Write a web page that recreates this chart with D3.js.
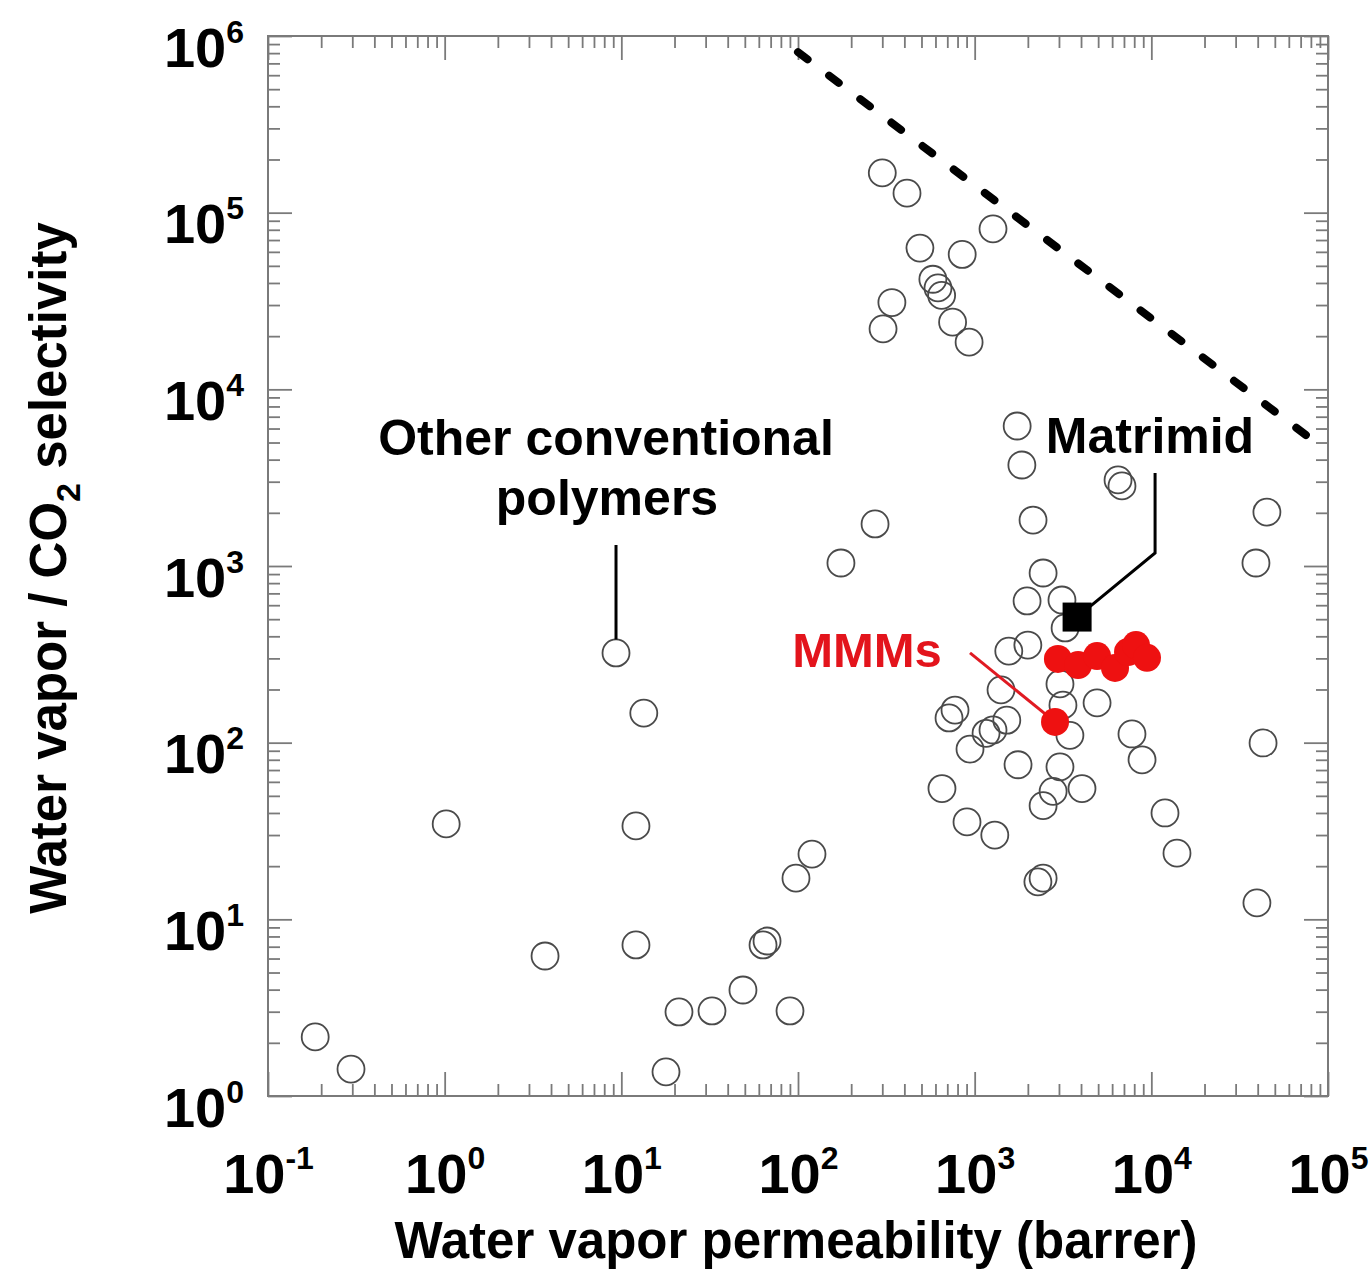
<!DOCTYPE html>
<html>
<head>
<meta charset="utf-8">
<script src="https://cdnjs.cloudflare.com/ajax/libs/d3/7.8.5/d3.min.js"></script>
<style>
  body { margin: 0; background: #fff; }
  svg text { font-family: "Liberation Sans", Arial, Helvetica, sans-serif; font-weight: bold; }
</style>
</head>
<body>
<div id="chart"></div>
<script>
// permeability (barrer) / selectivity
var otherPerm = [300, 414, 1270, 490, 850, 580, 620, 650, 340, 750, 303, 930,
  1740, 1850, 6480, 6820, 2140, 273, 175, 45100, 39100, 2440, 1980, 3120, 3250,
  2000, 1560, 3040, 3160, 3460, 774, 716, 1410, 1520, 1270, 1160, 941, 4930,
  7770, 8860, 1760, 3040, 653, 2780, 2440, 4050, 905, 1300, 11950, 13970, 2440,
  2280, 39600, 42900, 9.33, 13.4, 1.02, 12.1, 120, 97.4, 3.70, 12.1, 66.8, 63.4,
  48.8, 21.2, 32.6, 90.1, 17.9, 0.185, 0.295];
var otherSel = [168000, 129000, 81000, 63000, 58000, 42000, 37500, 34000, 31000, 24000, 22000, 18500,
  6200, 3730, 3070, 2840, 1820, 1730, 1040, 2020, 1040, 913, 634, 642, 446,
  357, 330, 215, 163, 110, 153, 138, 199, 134, 118, 113, 92, 168,
  112, 80, 75, 73, 55, 53, 44, 55, 35.6, 30, 40, 23.7, 17.1,
  16.3, 12.4, 99.6, 322, 147, 34.7, 33.8, 23.4, 17.1, 6.20, 7.16, 7.54, 7.16,
  3.98, 2.99, 3.03, 3.03, 1.37, 2.16, 1.42];

var mmmPerm = [2960, 3850, 4930, 6230, 7380, 8190, 9450, 2850];
var mmmSel = [298, 275, 309, 265, 326, 357, 302, 131];

var matrimidPerm = [3800];
var matrimidSel = [514];

// upper bound (dashed)
var boundPerm = [100, 81000];
var boundSel = [810000, 5200];

var xMajor = [0.1, 1, 10, 100, 1000, 10000, 100000];
var xExp = ["-1", "0", "1", "2", "3", "4", "5"];
var yMajor = [1, 10, 100, 1000, 10000, 100000, 1000000];
var yExp = ["0", "1", "2", "3", "4", "5", "6"];

var width = 1371, height = 1278;
var mLeft = 268, mRight = 1328, mTop = 36, mBottom = 1096;

var svg = d3.select('#chart').append('svg')
  .attr('width', width).attr('height', height);

var x = d3.scaleLog().domain([0.1, 1e5]).range([mLeft, mRight]);
var y = d3.scaleLog().domain([1, 1e6]).range([mBottom, mTop]);

function isMajor(v) {
  var l = Math.log10(v);
  return Math.abs(l - Math.round(l)) < 1e-6;
}
var xMinor = x.ticks().filter(function(v) { return !isMajor(v); });
var yMinor = y.ticks().filter(function(v) { return !isMajor(v); });

var axisColor = '#7a7a7a';

// draws ticks on one side, major + minor
function side(axisFn, scale, pos, major, minor) {
  var gMin = svg.append('g').attr('transform', pos)
    .call(axisFn(scale).tickValues(minor).tickSize(-12).tickSizeOuter(0).tickFormat(''));
  var gMaj = svg.append('g').attr('transform', pos)
    .call(axisFn(scale).tickValues(major).tickSize(-24).tickSizeOuter(0).tickFormat(''));
  [gMin, gMaj].forEach(function(g) {
    g.select('.domain').remove();
    g.selectAll('.tick line').attr('stroke', axisColor).attr('stroke-width', 1.8);
  });
  return gMaj;
}

var gx = side(d3.axisBottom, x, 'translate(0,' + mBottom + ')', xMajor, xMinor);
side(d3.axisTop, x, 'translate(0,' + mTop + ')', xMajor, xMinor);
var gy = side(d3.axisLeft, y, 'translate(' + mLeft + ',0)', yMajor, yMinor);
side(d3.axisRight, y, 'translate(' + mRight + ',0)', yMajor, yMinor);

// frame
svg.append('rect')
  .attr('x', mLeft).attr('y', mTop)
  .attr('width', mRight - mLeft).attr('height', mBottom - mTop)
  .attr('fill', 'none').attr('stroke', axisColor).attr('stroke-width', 2);

// tick labels 10^n
gx.selectAll('.tick text').each(function(d, i) {
  var t = d3.select(this).text(null)
    .attr('y', 97).attr('dy', null)
    .attr('fill', '#000').attr('font-size', 56)
    .attr('font-family', '"Liberation Sans", Arial, sans-serif')
    .attr('text-anchor', 'middle');
  t.append('tspan').text('10');
  t.append('tspan').attr('dy', -24).attr('font-size', 32).text(xExp[i]);
});
gy.selectAll('.tick text').each(function(d, i) {
  var t = d3.select(this).text(null)
    .attr('x', -24).attr('y', 30).attr('dy', null)
    .attr('fill', '#000').attr('font-size', 56)
    .attr('font-family', '"Liberation Sans", Arial, sans-serif')
    .attr('text-anchor', 'end');
  t.append('tspan').text('10');
  t.append('tspan').attr('dy', -24).attr('font-size', 32).text(yExp[i]);
});

// axis titles
svg.append('text')
  .attr('x', 796).attr('y', 1258)
  .attr('text-anchor', 'middle').attr('font-size', 51)
  .text('Water vapor permeability (barrer)');

var yt = svg.append('text')
  .attr('transform', 'translate(66,568) rotate(-90)')
  .attr('text-anchor', 'middle').attr('font-size', 51);
yt.append('tspan').text('Water vapor / CO');
yt.append('tspan').attr('dy', 14).attr('font-size', 34).text('2');
yt.append('tspan').attr('dy', -14).text(' selectivity');

var other = otherPerm.map(function(p, i) { return {p: p, s: otherSel[i]}; });
var mmm = mmmPerm.map(function(p, i) { return {p: p, s: mmmSel[i]}; });
var matrimid = matrimidPerm.map(function(p, i) { return {p: p, s: matrimidSel[i]}; });

var r = 13.5;

svg.append('g').selectAll('circle').data(other).enter().append('circle')
  .attr('cx', function(d) { return x(d.p); })
  .attr('cy', function(d) { return y(d.s); })
  .attr('r', r)
  .attr('fill', 'none').attr('stroke', '#4a4a4a').attr('stroke-width', 1.8);

// upper bound line
var bound = boundPerm.map(function(p, i) { return {p: p, s: boundSel[i]}; });
svg.append('path').datum(bound)
  .attr('d', d3.line().x(function(d) { return x(d.p); }).y(function(d) { return y(d.s); }))
  .attr('fill', 'none').attr('stroke', '#000').attr('stroke-width', 8)
  .attr('stroke-linecap', 'round').attr('stroke-dasharray', '12 27');

// leader lines
var lineFn = d3.line().x(function(d) { return d[0]; }).y(function(d) { return d[1]; });
var poly = other[54];
svg.append('path')
  .attr('d', lineFn([[x(poly.p), y(1315)], [x(poly.p), y(poly.s) - r]]))
  .attr('fill', 'none').attr('stroke', '#000').attr('stroke-width', 3);

svg.append('path')
  .attr('d', lineFn([[x(10500), y(3360)], [x(10500), y(1185)], [x(matrimid[0].p), y(matrimid[0].s)]]))
  .attr('fill', 'none').attr('stroke', '#000').attr('stroke-width', 3);

svg.append('path')
  .attr('d', lineFn([[x(941), y(322)], [x(mmm[7].p), y(mmm[7].s)]]))
  .attr('fill', 'none').attr('stroke', '#e01a22').attr('stroke-width', 3);

// MMMs
svg.append('g').selectAll('circle').data(mmm).enter().append('circle')
  .attr('cx', function(d) { return x(d.p); })
  .attr('cy', function(d) { return y(d.s); })
  .attr('r', 14)
  .attr('fill', '#ee1111');

// Matrimid
var sq = 29;
svg.append('g').selectAll('rect').data(matrimid).enter().append('rect')
  .attr('x', function(d) { return x(d.p) - sq / 2; })
  .attr('y', function(d) { return y(d.s) - sq / 2; })
  .attr('width', sq).attr('height', sq)
  .attr('fill', '#000');

// annotations
svg.append('text').attr('x', 606).attr('y', 455)
  .attr('text-anchor', 'middle').attr('font-size', 50).text('Other conventional');
svg.append('text').attr('x', 607).attr('y', 515)
  .attr('text-anchor', 'middle').attr('font-size', 50).text('polymers');
svg.append('text').attr('x', 1150).attr('y', 453)
  .attr('text-anchor', 'middle').attr('font-size', 50).text('Matrimid');
svg.append('text').attr('x', 867).attr('y', 667)
  .attr('text-anchor', 'middle').attr('font-size', 49)
  .attr('fill', '#e3141c').text('MMMs');
</script>
</body>
</html>
